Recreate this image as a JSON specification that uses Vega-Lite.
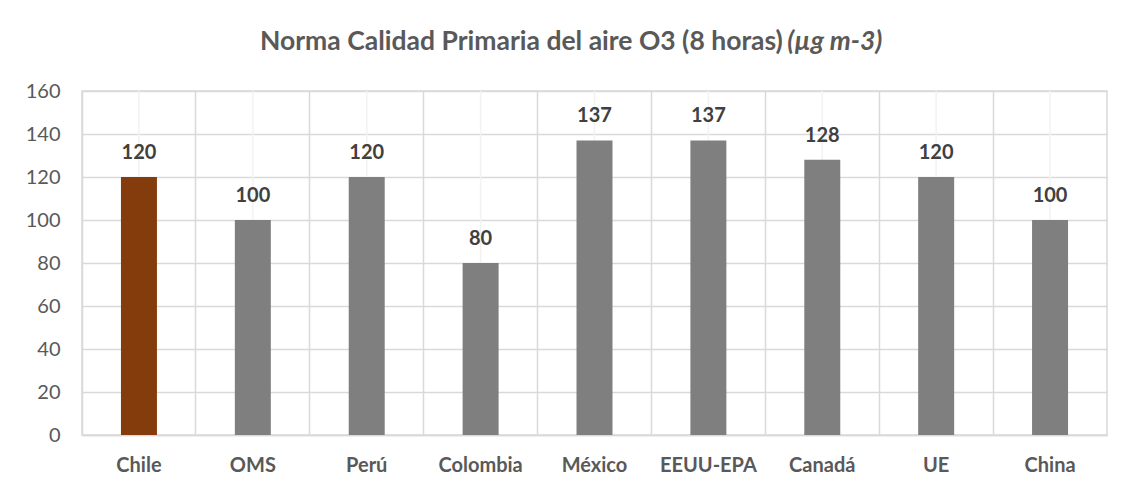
{
  "$schema": "https://vega.github.io/schema/vega-lite/v6.json",
  "width": 1025,
  "height": 344,
  "autosize": {"type": "none"},
  "padding": {"left": 82, "top": 91, "right": 23, "bottom": 60},
  "background": "white",
  "title": {
    "text": "Norma Calidad Primaria del aire O3 (8 horas)",
    "subtitle": "\u200b\u2002\u2002\u2002\u2002\u2002\u2002\u2002\u2002\u2002\u2002\u2002\u2002\u2002\u2002\u2002\u2002\u2002\u2002\u2002\u2002\u2002\u2002\u2002\u2002\u2002\u2002\u2002\u2002\u2002\u2002\u2002\u2002\u2002\u2002\u2002\u2002\u2002\u2002\u2002\u2002\u2002\u2002\u2002\u2009(µg m-3)",
    "anchor": "start",
    "frame": "group",
    "dx": 178,
    "offset": 26,
    "font": "Lato",
    "fontSize": 26.5,
    "fontWeight": "bold",
    "color": "#595959",
    "subtitleFont": "Lato",
    "subtitleFontSize": 26.5,
    "subtitleFontWeight": "bold",
    "subtitleFontStyle": "italic",
    "subtitleColor": "#595959",
    "subtitlePadding": -26.5
  },
  "data": {
    "values": [
      {"pais": "Chile", "valor": 120},
      {"pais": "OMS", "valor": 100},
      {"pais": "Perú", "valor": 120},
      {"pais": "Colombia", "valor": 80},
      {"pais": "México", "valor": 137},
      {"pais": "EEUU-EPA", "valor": 137},
      {"pais": "Canadá", "valor": 128},
      {"pais": "UE", "valor": 120},
      {"pais": "China", "valor": 100}
    ]
  },
  "encoding": {
    "x": {
      "field": "pais",
      "type": "nominal",
      "sort": null,
      "scale": {"paddingInner": 0, "paddingOuter": 0},
      "axis": {
        "title": null,
        "bandPosition": 0,
        "grid": true,
        "gridColor": "#d9d9d9",
        "gridWidth": 1.5,
        "ticks": false,
        "domain": true,
        "domainColor": "#d9d9d9",
        "domainWidth": 1.5,
        "labelAngle": 0,
        "labelFont": "Lato",
        "labelFontSize": 20,
        "labelFontWeight": "bold",
        "labelColor": "#595959",
        "labelPadding": 20
      }
    }
  },
  "layer": [
    {
      "mark": {"type": "rule", "color": "#f2f2f2", "strokeWidth": 1.5},
      "encoding": {}
    },
    {
      "mark": {"type": "bar", "width": {"band": 0.316}},
      "encoding": {
        "y": {
          "field": "valor",
          "type": "quantitative",
          "scale": {"domain": [0, 160], "nice": false},
          "axis": {
            "title": null,
            "values": [0, 5, 10, 15, 20, 25, 30, 35, 40, 45, 50, 55, 60, 65, 70, 75, 80, 85, 90, 95, 100, 105, 110, 115, 120, 125, 130, 135, 140, 145, 150, 155, 160],
            "labelExpr": "datum.value % 20 === 0 ? datum.label : ''",
            "grid": true,
            "gridColor": {"condition": {"test": "datum.value % 20 === 0", "value": "#d9d9d9"}, "value": "#f2f2f2"},
            "gridWidth": 1.5,
            "ticks": false,
            "domain": false,
            "labelFont": "Lato",
            "labelFontSize": 20,
            "labelColor": "#595959",
            "labelPadding": 22
          }
        },
        "color": {
          "condition": {"test": "datum.pais === 'Chile'", "value": "#843C0C"},
          "value": "#7F7F7F"
        }
      }
    },
    {
      "mark": {
        "type": "text",
        "baseline": "bottom",
        "dy": -14,
        "font": "Lato",
        "fontSize": 20,
        "fontWeight": "bold",
        "color": "#404040"
      },
      "encoding": {
        "y": {"field": "valor", "type": "quantitative"},
        "text": {"field": "valor", "type": "quantitative"}
      }
    }
  ],
  "config": {
    "view": {"stroke": "#d9d9d9", "strokeWidth": 1.5}
  }
}
